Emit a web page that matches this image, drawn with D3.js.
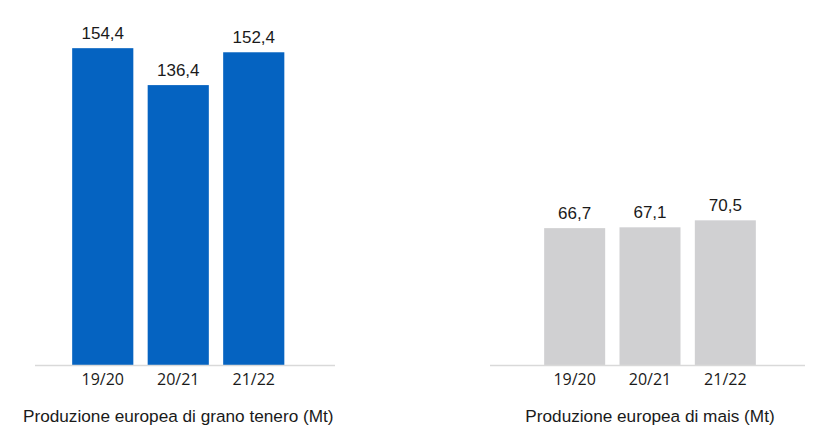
<!DOCTYPE html>
<html>
<head>
<meta charset="utf-8">
<script src="https://cdn.jsdelivr.net/npm/d3@7"></script>
<style>
  body { margin: 0; background: #fff; }
  .val { font-family: "Liberation Sans", Arial, sans-serif; font-size: 17px; fill: #1a1a1a; }
  .cat { font-family: "Open Sans", "Segoe UI", sans-serif; font-size: 16px; fill: #1a1a1a; }
  .title { font-family: "Liberation Sans", Arial, sans-serif; font-size: 17.2px; fill: #1a1a1a; }
</style>
</head>
<body>
<div id="chart"></div>
<script>
const categories = ["19/20", "20/21", "21/22"];
const granoValues = [154.4, 136.4, 152.4];
const maisValues = [66.7, 67.1, 70.5];
const titles = ["Produzione europea di grano tenero (Mt)", "Produzione europea di mais (Mt)"];

const width = 820;
const height = 443;
const baseY = 365;

const svg = d3.select("#chart")
  .append("svg")
  .attr("width", width)
  .attr("height", height);

// same vertical scale for both panels
const y = d3.scaleLinear()
  .domain([0, 160])
  .range([baseY, baseY - 160 * 2.052]);

const fmt = v => d3.format(".1f")(v).replace(".", ",");

const panels = [
  { values: granoValues, title: titles[0], color: "#0563C1", band: [65, 291.5], axis: [35, 335] },
  { values: maisValues, title: titles[1], color: "#D0D0D2", band: [537, 763], axis: [490, 805] }
];

panels.forEach(p => {
  const x = d3.scaleBand()
    .domain(categories)
    .range(p.band)
    .paddingInner(0.19)
    .paddingOuter(0.095);

  const rows = categories.map((c, i) => ({ cat: c, value: p.values[i] }));
  const g = svg.append("g");

  g.selectAll("rect")
    .data(rows)
    .join("rect")
    .attr("x", d => x(d.cat))
    .attr("y", d => y(d.value))
    .attr("width", x.bandwidth())
    .attr("height", d => y(0) - y(d.value))
    .attr("fill", p.color);

  g.append("line")
    .attr("x1", p.axis[0])
    .attr("x2", p.axis[1])
    .attr("y1", baseY + 0.5)
    .attr("y2", baseY + 0.5)
    .attr("stroke", "#d9d9d9")
    .attr("stroke-width", 1.5);

  g.selectAll(".val")
    .data(rows)
    .join("text")
    .attr("class", "val")
    .attr("x", d => x(d.cat) + x.bandwidth() / 2)
    .attr("y", d => y(d.value) - 9)
    .attr("text-anchor", "middle")
    .text(d => fmt(d.value));

  g.selectAll(".cat")
    .data(rows)
    .join("text")
    .attr("class", "cat")
    .attr("x", d => x(d.cat) + x.bandwidth() / 2)
    .attr("y", 385)
    .attr("text-anchor", "middle")
    .text(d => d.cat);

  g.append("text")
    .attr("class", "title")
    .attr("x", (p.band[0] + p.band[1]) / 2)
    .attr("y", 421.5)
    .attr("text-anchor", "middle")
    .text(p.title);
});
</script>
</body>
</html>
